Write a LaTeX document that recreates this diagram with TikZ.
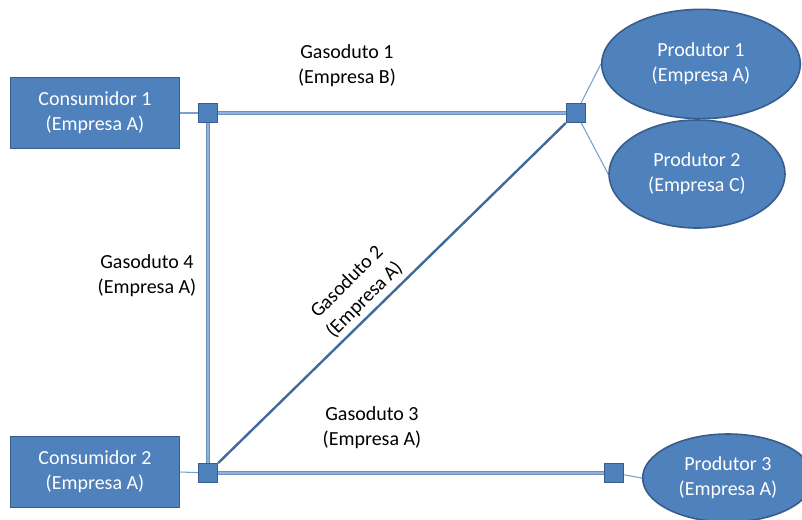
\documentclass[tikz,border=0pt]{standalone}
\usepackage{fontspec}
\setmainfont{Carlito}
\usetikzlibrary{shapes.geometric, positioning, backgrounds}
\definecolor{noBlue}{HTML}{4F81BD}
\definecolor{noEdge}{HTML}{385D8A}
\definecolor{dutoEdge}{HTML}{6A90C2}
\definecolor{dutoFill}{HTML}{93B1D8}
\definecolor{dutoDark}{HTML}{3F6A9C}
\tikzset{
  txt/.style={font=\fontsize{15}{18.6}\selectfont, align=center},
  duto/.style={draw=dutoEdge, line width=1.1pt, double=dutoFill, double distance=1.5pt},
}

\begin{document}
\begin{tikzpicture}[x=0.75pt, y=-0.75pt,
    consumidor/.style={txt, draw=noEdge, line width=1.2pt, fill=noBlue, text=white,
                       minimum width=127pt, minimum height=53pt},
    produtor/.style={txt, ellipse, draw=noEdge, line width=1.2pt, fill=noBlue, text=white, inner sep=0pt},
    junc/.style={draw=noEdge, line width=1.2pt, fill=noBlue, minimum size=14pt, inner sep=0pt},
    ramal/.style={draw=noBlue!75, line width=0.8pt},
    rotulo/.style={txt, text=black}
]
  \clip (0,0) rectangle (802,519);
  \useasboundingbox (0,0) rectangle (802,519);

  % consumidores e produtores
  \node[consumidor] (c1) at (95,113) {Consumidor 1\\(Empresa A)};
  \node[consumidor] (c2) at (95,472) {Consumidor 2\\(Empresa A)};
  \node[produtor, minimum width=149pt, minimum height=82pt] (p1) at (701,64) {Produtor 1\\(Empresa A)};
  \node[produtor, minimum width=132pt, minimum height=81pt] (p2) at (697,174) {Produtor 2\\(Empresa C)};
  \node[produtor, minimum width=128pt, minimum height=66pt] (p3) at (728,478) {Produtor 3\\(Empresa A)};

  % pontos de ligacao
  \node[junc] (j1) at (208,113) {};
  \node[junc] (j2) at (576,113) {};
  \node[junc] (j3) at (208,473) {};
  \node[junc] (j4) at (614,473) {};

  \begin{scope}[on background layer]
    \draw[ramal] (c1.east) -- (j1);
    \draw[ramal] (c2.east) -- (j3);
    \draw[ramal] (j2) -- (p1.west);
    \draw[ramal] (j2) -- (p2.west);
    \draw[ramal] (j4) -- (p3.west);
    \draw[duto] (j1) -- (j2);
    \draw[duto] (j1) -- (j3);
    \draw[duto] (j3) -- (j4);
    \draw[dutoDark, line width=1.8pt] (j3) -- (j2);
  \end{scope}

  \node[rotulo] (g1) at (347,66) {Gasoduto 1\\(Empresa B)};
  \node[rotulo] (g4) at (147,276) {Gasoduto 4\\(Empresa A)};
  \node[rotulo] (g3) at (372,428) {Gasoduto 3\\(Empresa A)};
  \node[rotulo, rotate=45] (g2) at (356,291) {Gasoduto 2\\(Empresa A)};
\end{tikzpicture}
\end{document}
